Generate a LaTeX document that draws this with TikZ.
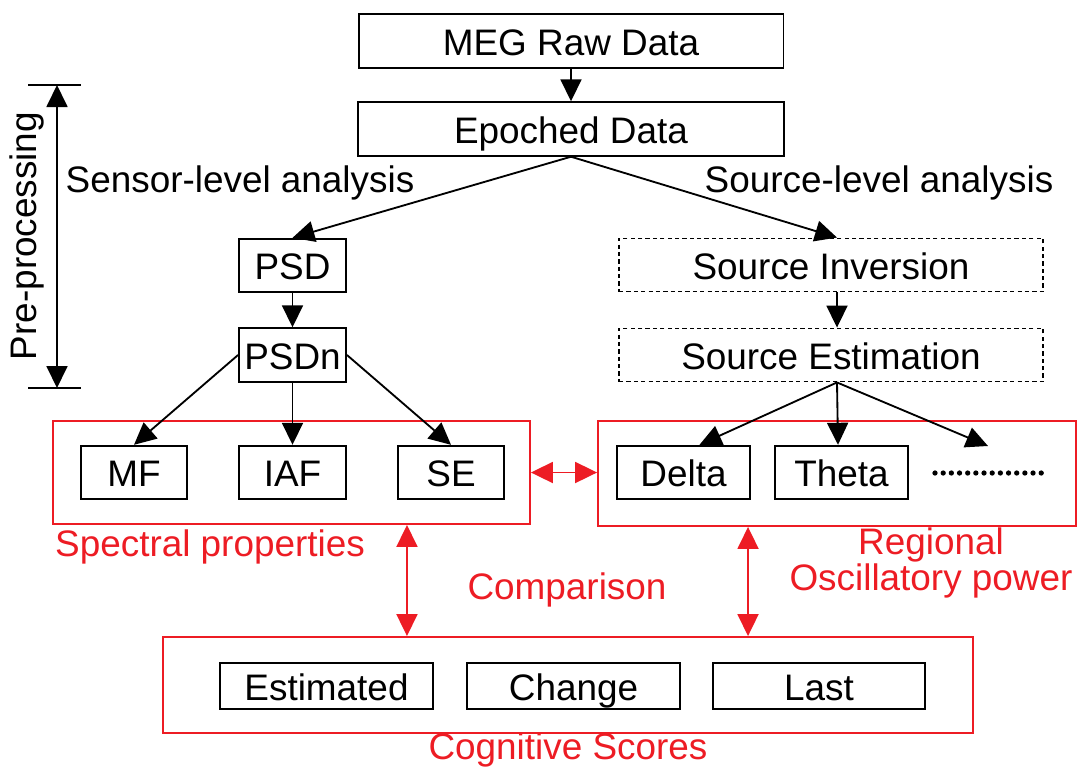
\documentclass[tikz,border=0pt]{standalone}
\usepackage{fontspec}
\setmainfont{Liberation Sans}
\usepackage{tikz}
\usetikzlibrary{arrows.meta, positioning, calc}
\definecolor{cred}{RGB}{237,28,36}

\begin{document}
\begin{tikzpicture}[x=0.02cm, y=-0.02cm,
    font=\fontsize{21}{25}\selectfont,
    box/.style={draw, line width=1.1pt, inner sep=0pt, minimum height=1.07cm, text height=16.3pt, text depth=0pt},
    dbox/.style={box, line width=0.8pt, dash pattern=on 2.4pt off 1.8pt},
    redbox/.style={draw=cred, line width=1.1pt, inner sep=0pt},
    arr/.style={line width=1.05pt, -{Triangle[length=0.44cm, width=0.42cm]}},
    redarr/.style={draw=cred, line width=1.1pt, {Triangle[length=0.44cm, width=0.42cm]}-{Triangle[length=0.44cm, width=0.42cm]}},
    lbl/.style={text=cred, inner sep=0pt}]
  \useasboundingbox (0,0) rectangle (1081,768);

  % Top: raw data and epochs
  \node[box, minimum width=8.5cm] (raw) at (571,41) {MEG Raw Data};
  \node[box, minimum width=8.52cm] (epoch) at (571,129) {Epoched Data};
  \draw[arr] (raw) -- (epoch);

  % Pre-processing range
  \coordinate (ppT) at (57,85);
  \coordinate (ppB) at (57,388);
  \draw[line width=0.8pt] (28,85) -- (81,85);
  \draw[line width=0.8pt] (28,388) -- (81,388);
  \draw[line width=1.05pt, {Triangle[length=0.44cm, width=0.42cm]}-{Triangle[length=0.44cm, width=0.42cm]}] (ppT) -- (ppB);
  \node[rotate=90, inner sep=0pt] (pplbl) at (27,236) {Pre-processing};

  % Branch labels
  \node[inner sep=0pt] (sensorlbl) at (240,183) {Sensor-level analysis};
  \node[inner sep=0pt] (sourcelbl) at (879,183) {Source-level analysis};

  % Sensor level
  \node[box, minimum width=2.14cm] (psd) at (292.5,265.5) {PSD};
  \node[box, minimum width=2.14cm] (psdn) at (292.5,355) {PSDn};
  \draw[arr] (epoch.south) -- (psd.north);
  \draw[arr] (psd) -- (psdn);

  \node[redbox, minimum width=9.54cm, minimum height=2.06cm] (specbox) at (291.5,472.5) {};
  \node[box, minimum width=2.12cm] (mf) at (134,472.5) {MF};
  \node[box, minimum width=2.14cm] (iaf) at (292.5,472.5) {IAF};
  \node[box, minimum width=2.12cm] (se) at (451,472.5) {SE};
  \draw[arr] (psdn.west) -- (mf.north);
  \draw[arr] (psdn.south) -- (iaf.north);
  \draw[arr] (psdn.east) -- (se.north);
  \node[lbl] (speclbl) at (210,547) {Spectral properties};

  % Source level
  \node[dbox, minimum width=8.48cm] (inv) at (831,265) {Source Inversion};
  \node[dbox, minimum width=8.48cm] (est) at (831,355) {Source Estimation};
  \draw[arr] (epoch.south) -- ([xshift=0.12cm]inv.north);
  \draw[arr] ([xshift=0.12cm]inv.south) -- ([xshift=0.12cm]est.north);

  \node[redbox, minimum width=9.56cm, minimum height=2.1cm] (oscbox) at (837,473.5) {};
  \node[box, minimum width=2.66cm] (delta) at (683.5,472.5) {Delta};
  \node[box, minimum width=2.66cm] (theta) at (841.5,472.5) {Theta};
  \coordinate (dotsL) at (935,473);
  \coordinate (dotsR) at (1042,473);
  \coordinate (dotsT) at (988,446);
  \draw[line width=3pt, line cap=round, dash pattern=on 0pt off 4.65pt] (dotsL) -- (dotsR);
  \draw[arr] ([xshift=0.12cm]est.south) -- ([xshift=0.32cm]delta.north);
  \draw[arr] ([xshift=0.12cm]est.south) -- ([xshift=-0.07cm]theta.north);
  \draw[arr] ([xshift=0.12cm]est.south) -- (dotsT);
  \node[lbl, align=center, font=\fontsize{21}{19.5}\selectfont] (osclbl) at (931,563) {Regional\\Oscillatory power};

  % Comparison with cognitive scores
  \node[redbox, minimum width=16.2cm, minimum height=1.92cm] (scorebox) at (568,685) {};
  \node[box, minimum width=4.26cm, minimum height=0.92cm] (estd) at (326.5,686) {Estimated};
  \node[box, minimum width=4.26cm, minimum height=0.92cm] (change) at (573.5,686) {Change};
  \node[box, minimum width=4.24cm, minimum height=0.92cm] (last) at (819,686) {Last};
  \node[lbl] (scorelbl) at (568,750) {Cognitive Scores};
  \node[lbl] (cmplbl) at (567,590) {Comparison};

  \draw[redarr] (specbox.east) -- (specbox.east -| oscbox.west);
  \draw[redarr] ([xshift=2.31cm]specbox.south) -- ([xshift=2.31cm]specbox.south |- scorebox.north);
  \draw[redarr] ([xshift=-1.78cm]oscbox.south) -- ([xshift=-1.78cm]oscbox.south |- scorebox.north);
\end{tikzpicture}
\end{document}
